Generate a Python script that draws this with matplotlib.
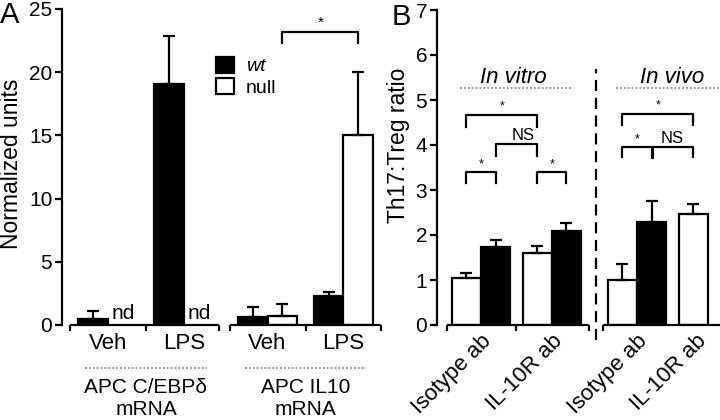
import numpy as np
import matplotlib
matplotlib.use("Agg")
import matplotlib.pyplot as plt
from matplotlib.patches import Patch

plt.rcParams['font.family'] = ['Liberation Sans', 'DejaVu Sans']

# ---------------- data ----------------
# Panel A
a_categories = ["Veh", "LPS", "Veh", "LPS"]
a_groups = ["APC C/EBP\u03b4", "APC IL10"]
a_wt = [0.47, 19.1, 0.63, 2.29]
a_wt_err = [0.65, 3.8, 0.8, 0.32]
a_null = [np.nan, np.nan, 0.72, 15.0]
a_null_err = [np.nan, np.nan, 0.92, 5.0]

# Panel B
b_categories = ["Isotype ab", "IL-10R ab", "Isotype ab", "IL-10R ab"]
b_sections = ["In vitro", "In vivo"]
b_white = [1.05, 1.60, 1.00, 2.47]
b_white_err = [0.11, 0.15, 0.35, 0.22]
b_black = [1.74, 2.10, 2.28, np.nan]
b_black_err = [0.14, 0.16, 0.48, np.nan]

LW = 1.6

fig = plt.figure(figsize=(7.2, 4.2), dpi=100)
W, H = 720, 420


def px_axes(x0, x1, y0, y1):
    return fig.add_axes([x0 / W, 1 - y1 / H, (x1 - x0) / W, (y1 - y0) / H])


def style_axes(ax):
    for s in ['top', 'right', 'bottom']:
        ax.spines[s].set_visible(False)
    ax.spines['left'].set_linewidth(LW)
    ax.tick_params(axis='y', direction='out', length=5, width=LW, labelsize=15, pad=2)
    ax.tick_params(axis='x', which='major', length=0, labelsize=16, pad=6)
    ax.tick_params(axis='x', which='minor', direction='out', length=4, width=LW)


def bracket(ax, x0, x1, ytop, ybot, mids=()):
    ax.plot([x0, x0, x1, x1], [ybot, ytop, ytop, ybot], color='black', lw=LW, clip_on=False)
    for m in mids:
        ax.plot([m, m], [ytop, ybot], color='black', lw=LW + 0.6, clip_on=False)


# ---------------- Panel A ----------------
axA = px_axes(62, 383, 9, 325)
style_axes(axA)
posA = np.array([0, 1, 2.1, 3.1])
wA = 0.39
axA.set_xlim(-0.605, 3.62)
axA.set_ylim(0, 25)
axA.set_yticks([0, 5, 10, 15, 20, 25])

ek = dict(lw=LW, capthick=LW, capsize=4.5)
axA.bar(posA - wA / 2, a_wt, wA, color='black', edgecolor='black', lw=LW,
        yerr=[np.zeros(4), a_wt_err], error_kw=ek, label='wt')
null_vals = np.array(a_null)
okn = ~np.isnan(null_vals)
axA.bar(posA[okn] + wA / 2, null_vals[okn], wA, color='white', edgecolor='black', lw=LW,
        yerr=[np.zeros(okn.sum()), np.array(a_null_err)[okn]], error_kw=ek, label='null')
for p, v in zip(posA, a_null):
    if np.isnan(v):
        axA.text(p + wA / 2, 0.15, 'nd', ha='center', va='bottom', fontsize=15)

axA.set_xticks(posA)
axA.set_xticklabels(a_categories)
# broken x axis segments
gA = [(posA[0], posA[1]), (posA[2], posA[3])]
segA = [(gA[0][0] - 0.5, gA[0][1] + 0.46), (gA[1][0] - 0.5, gA[1][1] + 0.5)]
for s0, s1 in segA:
    axA.plot([s0, s1], [0, 0], color='black', lw=LW, clip_on=False, solid_capstyle='butt')
axA.set_xticks([segA[0][0], 0.5 * (posA[0] + posA[1]), segA[0][1],
                segA[1][0], 0.5 * (posA[2] + posA[3]), segA[1][1]], minor=True)

for (g0, g1), name in zip(gA, a_groups):
    c = 0.5 * (g0 + g1)
    axA.plot([c - 0.8, c + 0.8], [-3.4, -3.4], color='#999999', lw=1.4, ls=(0, (1, 1)), clip_on=False)
    axA.text(c, -4.95, name, ha='center', va='center', fontsize=15)
    axA.text(c, -6.7, 'mRNA', ha='center', va='center', fontsize=15)

# significance bracket
bracket(axA, posA[2] + wA / 2, posA[3] + wA / 2, 23.2, 22.3)
axA.text(0.5 * (posA[2] + posA[3]) + wA / 2, 23.35, '*', ha='center', va='bottom', fontsize=11)

leg = axA.legend(handles=[Patch(facecolor='black', edgecolor='black', lw=LW),
                          Patch(facecolor='white', edgecolor='black', lw=LW)],
                 labels=['wt', 'null'], frameon=False, fontsize=14,
                 loc='upper left', bbox_to_anchor=(216 / W, 1 - 57 / H),
                 bbox_transform=fig.transFigure, borderpad=0, borderaxespad=0,
                 handlelength=0.95, handleheight=0.85, handletextpad=0.6, labelspacing=0.15)
leg.get_texts()[0].set_fontstyle('italic')

fig.text(0.0, 1 - 1 / H, 'A', ha='left', va='top', fontsize=21)
fig.text(12 / W, 1 - 164 / H, 'Normalized units', rotation=90, ha='center', va='center', fontsize=16.5)

# ---------------- Panel B ----------------
axB = px_axes(437, 720, 10, 325)
style_axes(axB)
posB = np.array([0, 1, 2.2, 3.2])
wB = 0.41
axB.set_xlim(-0.62, 3.37)
axB.set_ylim(0, 7)
axB.set_yticks(range(8))

bw = np.array(b_white)
bb = np.array(b_black)
axB.bar(posB - wB / 2, bw, wB, color='white', edgecolor='black', lw=LW,
        yerr=[np.zeros(4), b_white_err], error_kw=ek)
okb = ~np.isnan(bb)
axB.bar(posB[okb] + wB / 2, bb[okb], wB, color='black', edgecolor='black', lw=LW,
        yerr=[np.zeros(okb.sum()), np.array(b_black_err)[okb]], error_kw=ek)

# label anchors: the last one sits under its (single) white bar, like the reference
lab_pos = posB.copy()
lab_pos[3] = posB[3] - 0.17
axB.set_xticks(lab_pos)
axB.set_xticklabels(b_categories, rotation=45, ha='right', va='top', rotation_mode='anchor', fontsize=16)
axB.tick_params(axis='x', which='major', pad=4)

gB = [(posB[0], posB[1]), (posB[2], posB[3])]
segB = [(gB[0][0] - 0.48, gB[0][1] + 0.52), (gB[1][0] - 0.48, gB[1][1] + 0.52)]
for s0, s1 in segB:
    axB.plot([s0, s1], [0, 0], color='black', lw=LW, clip_on=False, solid_capstyle='butt')
axB.set_xticks([segB[0][0], 0.5 * (posB[0] + posB[1]), segB[0][1], segB[1][0]], minor=True)

xdash = 0.5 * (segB[0][1] + segB[1][0])
axB.plot([xdash, xdash], [-0.33, 5.7], color='black', lw=LW, ls=(0, (5, 3)), clip_on=False)

for (g0, g1), name in zip(gB, b_sections):
    c = 0.5 * (g0 + g1)
    axB.text(c + (-0.05 if name == 'In vitro' else 0.0), 5.5, name, ha='center', va='center',
             fontsize=16, fontstyle='italic')
    axB.plot([c - 0.8, c + 0.8], [5.27, 5.27], color='#999999', lw=1.4, ls=(0, (1, 1)), clip_on=False)

# in vitro brackets
iw0, ib0, iw1, ib1 = posB[0] - wB / 2, posB[0] + wB / 2, posB[1] - wB / 2, posB[1] + wB / 2
bracket(axB, iw0, iw1, 4.67, 4.4)
axB.text(0.5 * (iw0 + iw1), 4.72, '*', ha='center', va='bottom', fontsize=9)
bracket(axB, ib0, iw1, 4.02, 3.76)
axB.text(0.5 * (ib0 + iw1) + 0.1, 4.2, 'NS', ha='center', va='center', fontsize=12)
bracket(axB, iw0, ib0, 3.4, 3.15)
axB.text(0.5 * (iw0 + ib0), 3.43, '*', ha='center', va='bottom', fontsize=9)
bracket(axB, iw1, ib1, 3.4, 3.15)
axB.text(0.5 * (iw1 + ib1), 3.43, '*', ha='center', va='bottom', fontsize=9)

# in vivo brackets
vw0, vb0, vw1 = posB[2] - wB / 2, posB[2] + wB / 2, posB[3] - wB / 2
bracket(axB, vw0, vw1, 4.69, 4.44)
axB.text(0.5 * (vw0 + vw1), 4.74, '*', ha='center', va='bottom', fontsize=9)
bracket(axB, vw0, vw1, 3.96, 3.73, mids=[vb0])
axB.text(0.5 * (vw0 + vb0), 4.0, '*', ha='center', va='bottom', fontsize=9)
axB.text(0.5 * (vb0 + vw1), 4.15, 'NS', ha='center', va='center', fontsize=12)

fig.text(392 / W, 1 - 3 / H, 'B', ha='left', va='top', fontsize=21)
fig.text(398 / W, 1 - 145 / H, 'Th17:Treg ratio', rotation=90, ha='center', va='center', fontsize=16.5)

fig.savefig('out.png', dpi=100)
